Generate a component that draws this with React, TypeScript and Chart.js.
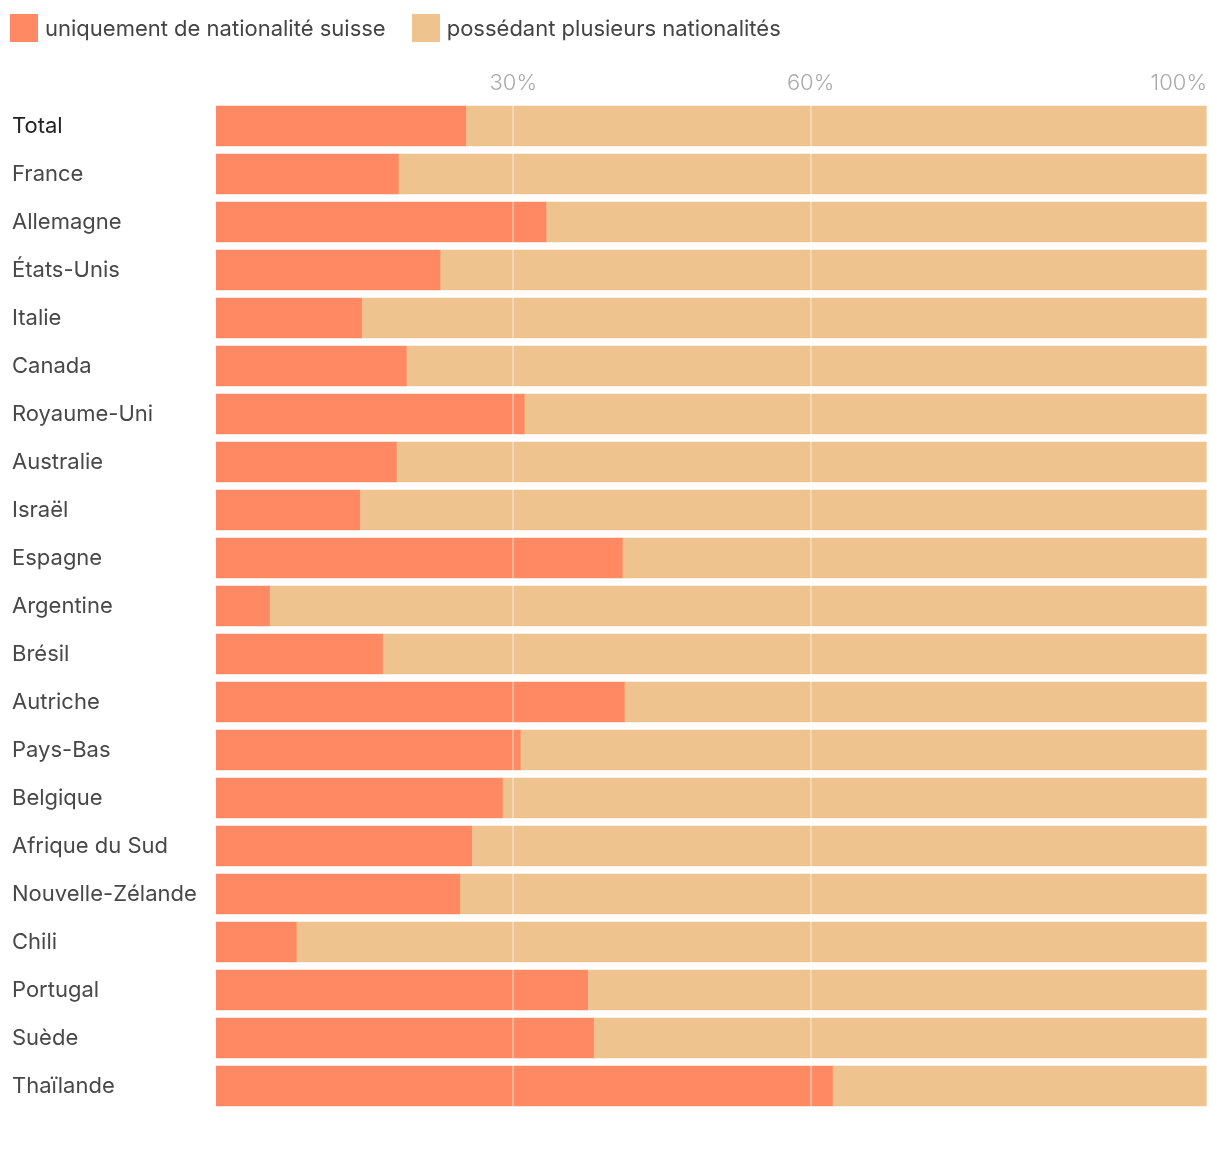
import React, { useEffect, useRef } from "react";
import { Chart, registerables } from "chart.js";

Chart.register(...registerables);

const categories = [
  "Total",
  "France",
  "Allemagne",
  "États-Unis",
  "Italie",
  "Canada",
  "Royaume-Uni",
  "Australie",
  "Israël",
  "Espagne",
  "Argentine",
  "Brésil",
  "Autriche",
  "Pays-Bas",
  "Belgique",
  "Afrique du Sud",
  "Nouvelle-Zélande",
  "Chili",
  "Portugal",
  "Suède",
  "Thaïlande",
];

const swissOnly = [
  25.2, 18.4, 33.3, 22.6, 14.7, 19.2, 31.1, 18.2, 14.5, 41.0, 5.4, 16.8, 41.2,
  30.7, 28.9, 25.8, 24.6, 8.1, 37.5, 38.1, 62.2,
];

const multiple = swissOnly.map((v) => Math.round((100 - v) * 10) / 10);

const tickValues = [0, 30, 60, 100];

const seriesLabels = [
  "uniquement de nationalité suisse",
  "possédant plusieurs nationalités",
];

const seriesColors = ["rgb(255,137,98)", "rgb(238,195,142)"];

const FONT = "Inter, 'Noto Sans', sans-serif";

const overlayGrid = {
  id: "overlayGrid",
  afterDatasetsDraw(chart: any) {
    const { ctx, chartArea, scales } = chart;
    const x = scales.x;
    ctx.save();
    ctx.strokeStyle = "rgba(255,255,255,0.35)";
    ctx.lineWidth = 2;
    tickValues.forEach((v) => {
      if (v === 0) return;
      const px = Math.round(x.getPixelForValue(v));
      ctx.beginPath();
      ctx.moveTo(px, chartArea.top);
      ctx.lineTo(px, chartArea.bottom);
      ctx.stroke();
    });
    ctx.restore();
  },
};

export default function App() {
  const ref = useRef<HTMLCanvasElement>(null);

  useEffect(() => {
    document.body.style.margin = "0";
    if (!ref.current) return;
    const chart = new Chart(ref.current, {
      type: "bar",
      data: {
        labels: categories,
        datasets: [
          {
            label: seriesLabels[0],
            data: swissOnly,
            backgroundColor: seriesColors[0],
            borderWidth: 0,
            barThickness: 40,
          },
          {
            label: seriesLabels[1],
            data: multiple,
            backgroundColor: seriesColors[1],
            borderWidth: 0,
            barThickness: 40,
          },
        ],
      },
      options: {
        indexAxis: "y",
        animation: false,
        responsive: false,
        maintainAspectRatio: false,
        layout: { padding: { top: 52, left: 12, right: 13, bottom: 56 } },
        plugins: {
          tooltip: { enabled: false },
          legend: { display: false },
        },
        scales: {
          x: {
            type: "linear",
            position: "top",
            stacked: true,
            min: 0,
            max: 100,
            grid: { display: false, drawTicks: false },
            border: { display: false },
            afterBuildTicks: (scale: any) => {
              scale.ticks = tickValues.map((v) => ({ value: v }));
            },
            afterFit: (scale: any) => {
              scale.height = 50;
            },
            ticks: {
              autoSkip: false,
              maxRotation: 0,
              align: "inner",
              padding: 5,
              color: "#aaa",
              font: { family: FONT, size: 22, weight: 300 },
              callback: (v: any) => (Number(v) === 0 ? "" : v + "%"),
            },
          },
          y: {
            type: "category",
            stacked: true,
            grid: { display: false, drawTicks: false },
            border: { display: false },
            afterFit: (scale: any) => {
              scale.width = 204;
            },
            ticks: {
              crossAlign: "far",
              padding: 0,
              autoSkip: false,
              color: (c: any) => (c.index === 0 ? "#222" : "#484848"),
              font: { family: FONT, size: 22 },
            },
          },
        },
      },
      plugins: [overlayGrid],
    });
    return () => chart.destroy();
  }, []);

  return (
    <div style={{ position: "relative", width: 1220, height: 1166, background: "#fff" }}>
      <div
        style={{
          position: "absolute",
          top: 14,
          left: 10,
          height: 28,
          display: "flex",
          alignItems: "center",
          fontFamily: FONT,
          fontSize: 22,
          color: "#444",
          whiteSpace: "nowrap",
        }}
      >
        {seriesLabels.map((label, i) => (
          <div
            key={label}
            style={{ display: "flex", alignItems: "center", marginLeft: i === 0 ? 0 : 26 }}
          >
            <span
              style={{
                display: "inline-block",
                width: 28,
                height: 28,
                background: seriesColors[i],
                marginRight: 7,
              }}
            />
            <span style={{ lineHeight: "28px" }}>{label}</span>
          </div>
        ))}
      </div>
      <canvas
        ref={ref}
        width={1220}
        height={1166}
        style={{ display: "block", width: 1220, height: 1166 }}
      />
    </div>
  );
}
